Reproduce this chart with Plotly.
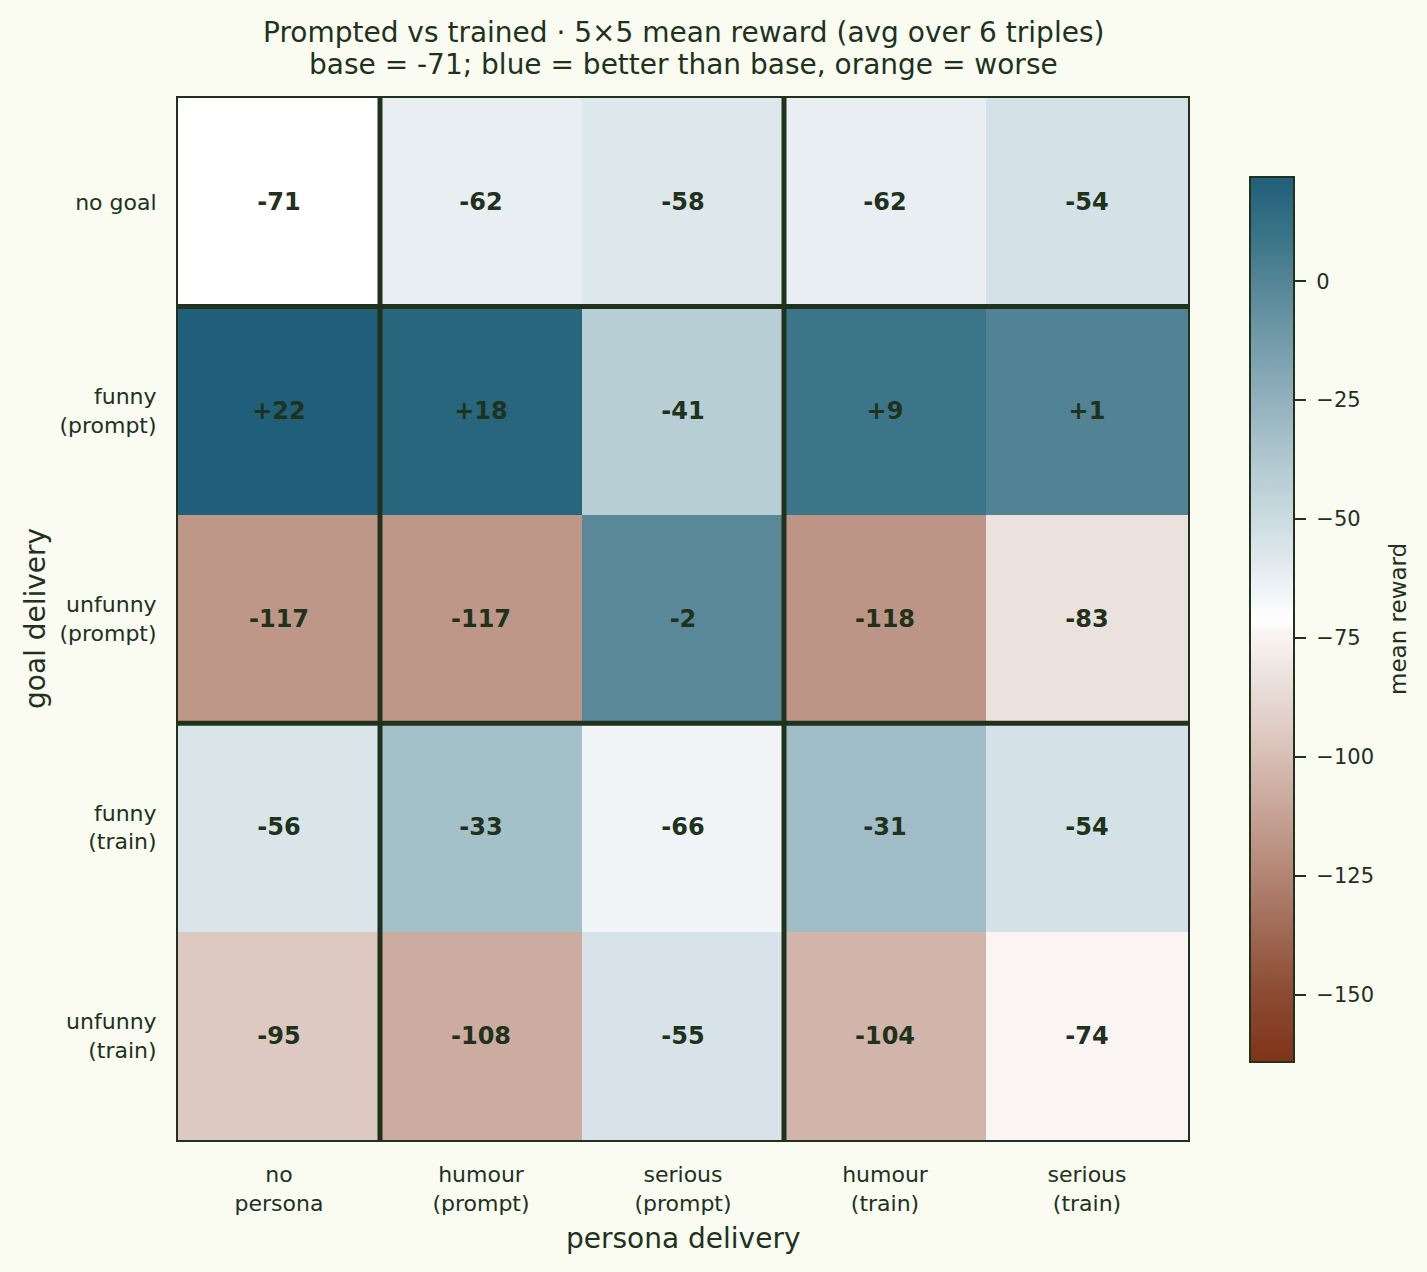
import plotly.graph_objects as go

# ---- data ----
persona_labels = ["no<br>persona", "humour<br>(prompt)", "serious<br>(prompt)", "humour<br>(train)", "serious<br>(train)"]
goal_labels = ["no goal", "funny<br>(prompt)", "unfunny<br>(prompt)", "funny<br>(train)", "unfunny<br>(train)"]
row_no_goal = [-71, -62, -58, -62, -54]
row_funny_prompt = [22, 18, -41, 9, 1]
row_unfunny_prompt = [-117, -117, -2, -118, -83]
row_funny_train = [-56, -33, -66, -31, -54]
row_unfunny_train = [-95, -108, -55, -104, -74]
base_value = -71
cbar_ticks = [0, -25, -50, -75, -100, -125, -150]
title_line1 = "Prompted vs trained · 5×5 mean reward (avg over 6 triples)"
title_line2 = "base = -71; blue = better than base, orange = worse"

z = [row_no_goal, row_funny_prompt, row_unfunny_prompt, row_funny_train, row_unfunny_train]
text = [[f"{v:+d}" for v in row] for row in z]

half = max(abs(v - base_value) for row in z for v in row)
zmin, zmax = base_value - half, base_value + half

INK = "#20321c"
BG = "#fafbf1"
FONT = "DejaVu Sans"

colorscale = [
    [0.0, "#7e3418"],
    [0.08, "#8c4c33"],
    [0.25, "#be9687"],
    [0.37, "#dec9c2"],
    [0.435, "#ebe2de"],
    [0.484, "#faf4f3"],
    [0.5, "#ffffff"],
    [0.527, "#f1f5f8"],
    [0.55, "#e7eef1"],
    [0.59, "#d5e2e7"],
    [0.66, "#b7ced4"],
    [0.715, "#a0bcc6"],
    [0.87, "#5a8999"],
    [0.93, "#3b7589"],
    [1.0, "#1f5f79"],
]

n = len(persona_labels)
fig = go.Figure(
    go.Heatmap(
        z=z,
        x=list(range(n)),
        y=list(range(len(goal_labels))),
        text=text,
        texttemplate="<b>%{text}</b>",
        textfont=dict(family=FONT, size=24, color=INK),
        colorscale=colorscale,
        zmin=zmin,
        zmax=zmax,
        xgap=0,
        ygap=0,
        colorbar=dict(
            x=(1250 - 178) / 1010,
            xanchor="left",
            xpad=0,
            ypad=0,
            y=0.5,
            yanchor="middle",
            len=885 / 1042,
            lenmode="fraction",
            thickness=44,
            outlinewidth=2,
            outlinecolor=INK,
            ticks="outside",
            ticklen=11,
            tickwidth=2,
            tickcolor=INK,
            tickvals=cbar_ticks,
            ticktext=["\u00a0" + str(t).replace("-", "\u2212") for t in cbar_ticks],
            tickfont=dict(family=FONT, size=21, color=INK),
        ),
        hoverongaps=False,
    )
)

# group separators
for xv in [0.5, 2.5]:
    fig.add_shape(type="line", x0=xv, x1=xv, y0=-0.5, y1=len(goal_labels) - 0.5,
                  xref="x", yref="y", line=dict(color=INK, width=5))
for yv in [0.5, 2.5]:
    fig.add_shape(type="line", x0=-0.5, x1=n - 0.5, y0=yv, y1=yv,
                  xref="x", yref="y", line=dict(color=INK, width=5))

fig.update_xaxes(
    tickvals=list(range(n)), ticktext=persona_labels, range=[-0.5, n - 0.5],
    showline=True, mirror=True, linewidth=2, linecolor=INK, ticks="",
    tickfont=dict(family=FONT, size=22, color=INK), ticklabelstandoff=14,
    showgrid=False, zeroline=False,
)
fig.update_yaxes(
    tickvals=list(range(len(goal_labels))), ticktext=goal_labels,
    range=[len(goal_labels) - 0.5, -0.5],
    showline=True, mirror=True, linewidth=2, linecolor=INK, ticks="",
    tickfont=dict(family=FONT, size=22, color=INK), ticklabelstandoff=15,
    showgrid=False, zeroline=False,
)

fig.add_annotation(text="persona delivery", x=0.5, y=-(1238 - 1140) / 1042, xref="paper", yref="paper",
                   xanchor="center", yanchor="middle", showarrow=False,
                   font=dict(family=FONT, size=28, color=INK))
fig.add_annotation(text="goal delivery", x=(35 - 178) / 1010, y=0.5, xref="paper", yref="paper",
                   xanchor="center", yanchor="middle", showarrow=False, textangle=-90,
                   font=dict(family=FONT, size=28, color=INK))
fig.add_annotation(text="mean reward", x=(1398 - 178) / 1010, y=0.5, xref="paper", yref="paper",
                   xanchor="center", yanchor="middle", showarrow=False, textangle=-90,
                   font=dict(family=FONT, size=23, color=INK))
fig.add_annotation(text=title_line1, x=0.5, y=(1140 - 32) / 1042, xref="paper", yref="paper",
                   xanchor="center", yanchor="middle", showarrow=False,
                   font=dict(family=FONT, size=28, color=INK))
fig.add_annotation(text=title_line2, x=0.5, y=(1140 - 65) / 1042, xref="paper", yref="paper",
                   xanchor="center", yanchor="middle", showarrow=False,
                   font=dict(family=FONT, size=28, color=INK))

fig.update_layout(
    width=1427, height=1272,
    margin=dict(l=178, r=239, t=98, b=132, autoexpand=False),
    paper_bgcolor=BG, plot_bgcolor=BG,
    font=dict(family=FONT, color=INK),
)

fig.write_html("out.html")
